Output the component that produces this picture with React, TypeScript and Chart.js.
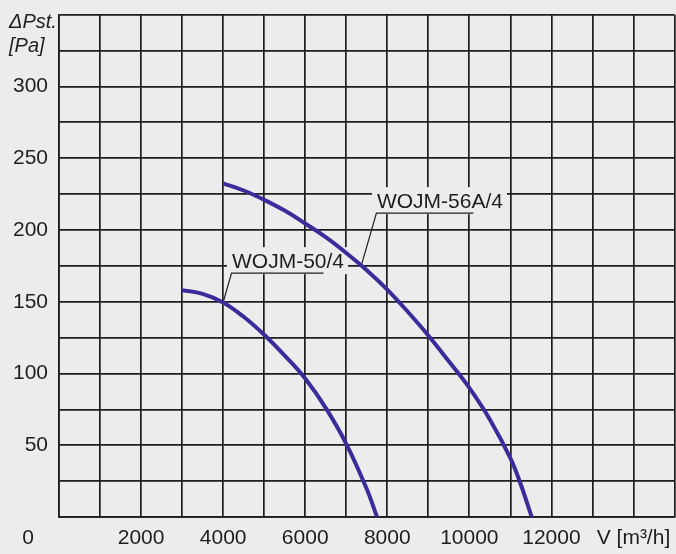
import { useEffect, useRef } from 'react';
import { Chart, registerables } from 'chart.js';

Chart.register(...registerables);

// ---- data ----
const flowWOJM50 = [3000, 3500, 4000, 4500, 5000, 5500, 6000, 6500, 7000, 7500, 7750];
const pstWOJM50 = [158, 155.5, 149.5, 139.5, 127, 112.5, 96.5, 76, 51, 19.5, 0];

const flowWOJM56A = [
  4000, 4500, 5000, 5500, 6000, 6500, 7000, 7500, 8000, 8500, 9000, 9500, 10000, 10500, 11000, 11250, 11520,
];
const pstWOJM56A = [
  232.5, 227.5, 221, 213.5, 204.5, 195, 184, 172, 158.5, 143, 126.5, 108.5, 90, 68, 41, 23, 0,
];

const seriesNames = ['WOJM-50/4', 'WOJM-56A/4'];
const xLabelValues = [2000, 4000, 6000, 8000, 10000, 12000];
const yLabelValues = [50, 100, 150, 200, 250, 300];
const xAxisTitle = 'V [m³/h]';
const xAxisTitleValue = 14000;
const originLabel = '0';
const yAxisTitle = ['ΔPst.', '[Pa]'];

// label anchor points on the curves (data units)
const labelAnchorX = [4000, 7370];
const labelAnchorY = [149.5, 175.5];

// ---- styles ----
const BG = '#ececec';
const INK = '#1e1e1e';
const CURVE = '#3b2c9c';
const FONT = '"Liberation Sans", Arial, Helvetica, sans-serif';
const FONT_SIZE = 21;

const labelLayout = [
  { dx: 8.4, dy: -29.3, underline: 92 },
  { dx: 15, dy: -52, underline: 97 },
];

const annotationPlugin = {
  id: 'curveLabels',
  beforeDatasetsDraw(chart: any) {
    const { ctx, scales } = chart;
    const xs = scales.x;
    const ys = scales.y;
    ctx.save();
    ctx.font = `${FONT_SIZE}px ${FONT}`;
    seriesNames.forEach((name, i) => {
      const ax = xs.getPixelForValue(labelAnchorX[i]);
      const ay = ys.getPixelForValue(labelAnchorY[i]);
      const lay = labelLayout[i];
      const ux = ax + lay.dx;
      const uy = ay + lay.dy;
      const tw = ctx.measureText(name).width;
      const tx = ux + 0.5;
      const ty = uy - 11;
      ctx.fillStyle = BG;
      ctx.fillRect(tx - 5, ty - 15, tw + 9, 27);
      ctx.fillStyle = INK;
      ctx.textAlign = 'left';
      ctx.textBaseline = 'middle';
      ctx.fillText(name, tx, ty);
      ctx.strokeStyle = INK;
      ctx.lineWidth = 1.2;
      ctx.beginPath();
      ctx.moveTo(ax, ay);
      ctx.lineTo(ux, uy);
      ctx.lineTo(ux + lay.underline, uy);
      ctx.stroke();
    });
    ctx.restore();
  },
  afterDraw(chart: any) {
    const { ctx, scales, chartArea } = chart;
    const xs = scales.x;
    const ys = scales.y;
    ctx.save();
    ctx.fillStyle = INK;
    ctx.textBaseline = 'middle';
    ctx.font = `${FONT_SIZE}px ${FONT}`;
    ctx.textAlign = 'center';
    ctx.fillText(originLabel, xs.getPixelForValue(0) - 31, chartArea.bottom + 21);
    ctx.font = `italic ${FONT_SIZE - 1}px ${FONT}`;
    ctx.textAlign = 'left';
    ctx.fillText(yAxisTitle[0], 9, ys.getPixelForValue(350) + 7.5);
    ctx.fillText(yAxisTitle[1], 9, ys.getPixelForValue(325) - 4.5);
    ctx.restore();
  },
};

export default function App() {
  const canvasRef = useRef<HTMLCanvasElement | null>(null);

  useEffect(() => {
    if (!canvasRef.current) return;
    const chart = new Chart(canvasRef.current, {
      type: 'line',
      data: {
        datasets: [
          {
            label: seriesNames[0],
            data: flowWOJM50.map((x, i) => ({ x, y: pstWOJM50[i] })),
            borderColor: CURVE,
            borderWidth: 4,
            pointRadius: 0,
            fill: false,
            tension: 0.4,
          },
          {
            label: seriesNames[1],
            data: flowWOJM56A.map((x, i) => ({ x, y: pstWOJM56A[i] })),
            borderColor: CURVE,
            borderWidth: 4,
            pointRadius: 0,
            fill: false,
            tension: 0.4,
          },
        ],
      },
      options: {
        animation: false,
        responsive: true,
        maintainAspectRatio: false,
        layout: { padding: { top: 14.7, right: 1.5, left: 0, bottom: 0 } },
        plugins: {
          legend: { display: false },
          tooltip: { enabled: false },
        },
        events: [],
        scales: {
          x: {
            type: 'linear',
            min: 0,
            max: 15000,
            afterFit: (s: any) => {
              s.height = 37;
              s.paddingLeft = 0;
              s.paddingRight = 0;
            },
            ticks: {
              stepSize: 1000,
              autoSkip: false,
              maxRotation: 0,
              padding: 9,
              color: INK,
              font: { family: FONT, size: FONT_SIZE },
              callback: (v: any) => {
                const n = Number(v);
                if (xLabelValues.includes(n)) return String(n);
                if (n === xAxisTitleValue) return xAxisTitle;
                return '';
              },
            },
            grid: { color: INK, lineWidth: 1.7, drawTicks: false },
            border: { color: INK, width: 1.7 },
          },
          y: {
            type: 'linear',
            min: 0,
            max: 350,
            afterFit: (s: any) => {
              s.width = 59;
              s.paddingTop = 0;
              s.paddingBottom = 0;
            },
            ticks: {
              stepSize: 25,
              autoSkip: false,
              padding: 11,
              color: INK,
              font: { family: FONT, size: FONT_SIZE },
              callback: (v: any) => {
                const n = Number(v);
                return yLabelValues.includes(n) ? String(n) : '';
              },
            },
            grid: { color: INK, lineWidth: 1.7, drawTicks: false },
            border: { color: INK, width: 1.7 },
          },
        },
      } as any,
      plugins: [annotationPlugin],
    });
    return () => chart.destroy();
  }, []);

  return (
    <div
      style={{
        position: 'absolute',
        left: 0,
        top: 0,
        width: 676,
        height: 554,
        background: BG,
      }}
    >
      <canvas ref={canvasRef} />
    </div>
  );
}
